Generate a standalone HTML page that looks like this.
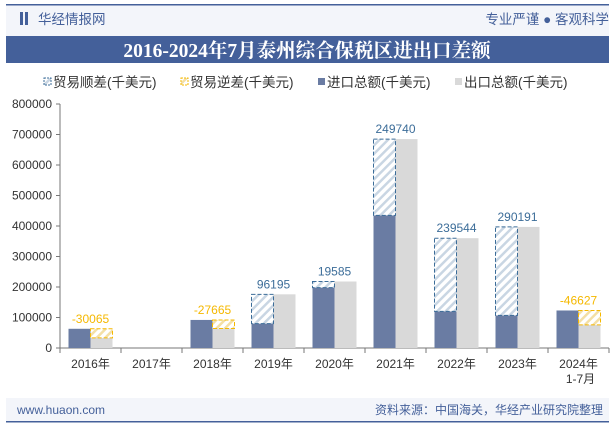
<!DOCTYPE html>
<html><head><meta charset="utf-8"><style>
body{margin:0;width:615px;height:427px;overflow:hidden;background:#fff;font-family:"Liberation Sans","Noto Sans CJK SC",sans-serif;}
</style></head><body>
<svg width="615" height="427" xmlns="http://www.w3.org/2000/svg" font-family="Liberation Sans, Noto Sans CJK SC, sans-serif">
<defs>
<pattern id="hb" width="6" height="6" patternUnits="userSpaceOnUse" patternTransform="rotate(45)"><rect width="6" height="6" fill="#fff"/><rect width="2.5" height="6" fill="#c9d6e3"/></pattern>
<pattern id="hy" width="6" height="6" patternUnits="userSpaceOnUse" patternTransform="rotate(45)"><rect width="6" height="6" fill="#fff"/><rect width="2.5" height="6" fill="#f3dfa6"/></pattern>
</defs>
<rect x="6" y="5" width="603" height="31" fill="#f3f5fa"/>
<rect x="6" y="4" width="603" height="1.5" fill="#44609a"/>
<rect x="20" y="12" width="3" height="13" fill="#44609a"/><rect x="25" y="12" width="3" height="13" fill="#44609a"/>
<text x="38" y="24" font-size="13.5" fill="#44609a">华经情报网</text>
<text x="609" y="24" font-size="13.5" fill="#44609a" text-anchor="end">专业严谨 ● 客观科学</text>
<rect x="6" y="36" width="603" height="27" fill="#44609a"/>
<text x="307" y="57" font-size="19.5" font-weight="bold" fill="#fff" text-anchor="middle" font-family="Liberation Serif, Noto Serif CJK SC, serif">2016-2024年7月泰州综合保税区进出口差额</text>
<g id="legend" font-size="13.5" fill="#333">
<g><rect x="44" y="78" width="7" height="7" fill="url(#hb)" stroke="#3c6d99" stroke-dasharray="2,1"/><text x="53" y="87">贸易顺差(千美元)</text></g>
<g><rect x="181" y="78" width="7" height="7" fill="url(#hy)" stroke="#f5b800" stroke-dasharray="2,1"/><text x="190" y="87">贸易逆差(千美元)</text></g>
<g><rect x="318" y="78" width="7" height="7" fill="#6a7ca3"/><text x="327" y="87">进口总额(千美元)</text></g>
<g><rect x="455" y="78" width="7" height="7" fill="#d9d9d9"/><text x="464" y="87">出口总额(千美元)</text></g>
</g>
<g id="plot"></g>
<rect x="6" y="398" width="603" height="24" fill="#f3f5fa"/>
<rect x="6" y="421" width="603" height="1.5" fill="#44609a"/>
<text x="17" y="414" font-size="12" fill="#44609a">www.huaon.com</text>
<text x="603" y="414" font-size="12" fill="#44609a" text-anchor="end">资料来源：中国海关，华经产业研究院整理</text>
</svg>
<script>
const categories=["2016年","2017年","2018年","2019年","2020年","2021年","2022年","2023年","2024年"];
const imports=[63000,0,92000,80000,198000,435000,120000,107000,123000];
const exports=[33000,0,64000,176000,218000,685000,360000,397000,76000];
const balance=[-30065,null,-27665,96195,19585,249740,239544,290191,-46627];
const yTicks=[0,100000,200000,300000,400000,500000,600000,700000,800000];
const NS="http://www.w3.org/2000/svg";
const g=document.getElementById('plot');
const x0=60,step=61,yb=348,yt=104,ymax=800000,bw=22;
const y=v=>yb-(v/ymax)*(yb-yt);
const cx=i=>x0+step*(i+0.5);
function mk(t,a,parent){const e=document.createElementNS(NS,t);for(const k in a)e.setAttribute(k,a[k]);(parent||g).appendChild(e);return e;}
yTicks.forEach(v=>{
 const l=mk('line',{x1:x0-4,x2:x0,y1:y(v),y2:y(v),stroke:'#777'});
 
 
 const t=mk('text',{x:x0-8,y:y(v)+4,'font-size':12,'text-anchor':'end',fill:'#333'});t.textContent=v;
 
 
});
const ax=mk('line',{x1:x0,x2:x0,y1:yt,y2:yb,stroke:'#777'});


const bx=mk('line',{x1:x0,x2:x0+step*categories.length,y1:yb,y2:yb,stroke:'#777'});


for(let i=0;i<=categories.length;i++){mk('line',{x1:x0+step*i,x2:x0+step*i,y1:yb,y2:yb+5,stroke:'#777'});}
categories.forEach((c,i)=>{
 const c0=cx(i);
 const ib=mk('rect',{x:c0-bw,y:y(imports[i]),width:bw,height:yb-y(imports[i]),fill:'#6a7ca3'});
 
 
 const eb=mk('rect',{x:c0,y:y(exports[i]),width:bw,height:yb-y(exports[i]),fill:'#d9d9d9'});
 
 
 const b=balance[i];
 if(b!==null){
  const sur=b>=0;
  const lo=Math.min(imports[i],exports[i]),hi=Math.max(imports[i],exports[i]);
  const hx=sur?c0-bw:c0;
  const h=mk('rect',{x:hx,y:y(hi),width:bw,height:y(lo)-y(hi),fill:sur?'url(#hb)':'url(#hy)',stroke:sur?'#3c6d99':'#f5b800','stroke-dasharray':'4,2'});
  
  
  const t=mk('text',{x:c0,y:y(hi)-6,'font-size':12,'text-anchor':'middle',fill:sur?'#3c6d99':'#f5b800'});t.textContent=b;
  
  
 }
 const t=mk('text',{x:c0,y:yb+20,'font-size':12,'text-anchor':'middle',fill:'#333'});t.textContent=c;
 
 
 if(i===categories.length-1){const t2=mk('text',{x:c0+2,y:yb+35,'font-size':12,'text-anchor':'middle',fill:'#333'});t2.textContent='1-7月';
 
 }
});
</script>
</body></html>
